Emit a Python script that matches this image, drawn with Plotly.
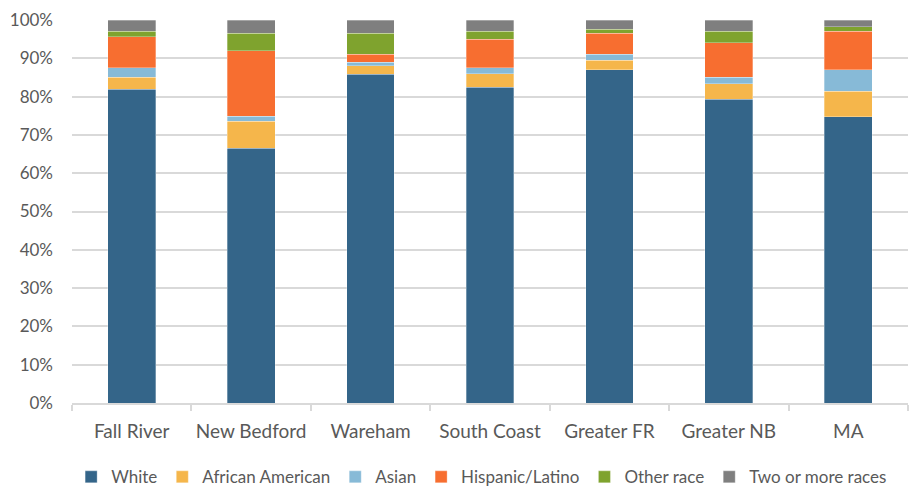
import plotly.graph_objects as go

categories = ["Fall River", "New Bedford", "Wareham", "South Coast", "Greater FR", "Greater NB", "MA"]
white = [81.9, 66.5, 85.9, 82.4, 87.0, 79.3, 74.7]
african_american = [3.1, 7.1, 2.1, 3.6, 2.5, 4.1, 6.7]
asian = [2.5, 1.3, 1.0, 1.5, 1.6, 1.6, 5.6]
hispanic = [8.1, 17.1, 2.1, 7.5, 5.5, 9.1, 10.1]
other = [1.5, 4.6, 5.5, 2.1, 1.0, 3.0, 1.1]
two_more = [2.9, 3.4, 3.4, 2.9, 2.4, 2.9, 1.8]

series = [
    ("White", white, "#346589"),
    ("African American", african_american, "#F5B64B"),
    ("Asian", asian, "#87BAD7"),
    ("Hispanic/Latino", hispanic, "#F76E30"),
    ("Other race", other, "#7FA32E"),
    ("Two or more races", two_more, "#7F7F7F"),
]

FONT = "Lato, 'Open Sans', sans-serif"
fig = go.Figure()
for name, vals, color in series:
    fig.add_trace(go.Bar(
        x=categories, y=[v / 100 for v in vals], name=name,
        marker=dict(color=color, line=dict(color="rgba(255,255,255,0.5)", width=0.6)),
        width=0.4,
    ))

fig.update_layout(
    barmode="stack",
    width=909, height=493,
    margin=dict(l=72, r=1, t=20, b=90, autoexpand=False),
    paper_bgcolor="white", plot_bgcolor="white",
    font=dict(family=FONT, size=17, color="#595959"),
    showlegend=True,
    legend=dict(orientation="h", x=0.49, xanchor="center", y=-0.194, yanchor="middle",
                font=dict(size=17, color="#595959"), traceorder="normal",
                itemwidth=30, tracegroupgap=0),
    xaxis=dict(showline=True, linecolor="#D9D9D9", linewidth=1.5, ticks="outside",
               tickson="boundaries", ticklen=6, tickcolor="#D9D9D9", tickwidth=1.5,
               tickfont=dict(size=19), tickangle=0, ticklabelstandoff=10, showgrid=False,
               automargin=False),
    yaxis=dict(range=[0, 1], dtick=0.1, tickformat=".0%", showgrid=True,
               gridcolor="#D9D9D9", gridwidth=1.5, zeroline=False,
               ticklabelstandoff=18, automargin=False),
)

fig.write_html("out.html", config={"displayModeBar": False},
               post_script="document.body.style.margin='0px';document.body.style.overflow='hidden';")
